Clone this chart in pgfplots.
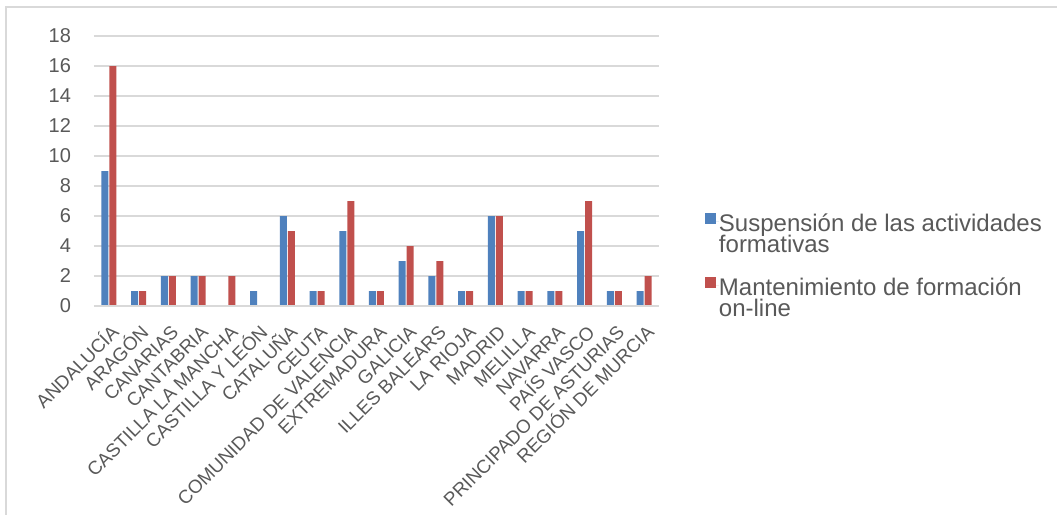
\documentclass[border=0pt]{standalone}
\usepackage{fontspec}
\setmainfont{Liberation Sans}
\usepackage{pgfplots}
\pgfplotsset{compat=1.18}
\definecolor{cblue}{HTML}{4F81BD}
\definecolor{cred}{HTML}{C0504D}
\definecolor{cgrid}{HTML}{D9D9D9}
\definecolor{ctext}{HTML}{595959}
\newcommand{\lstrut}{\rule[-2.5pt]{0pt}{11.5pt}}
\begin{document}
\begin{tikzpicture}
\useasboundingbox (-47pt,-104.5pt) rectangle (481.5pt,153pt);
\draw[cgrid, line width=0.7pt] (-44pt,-104.5pt) -- (-44pt,149.5pt) -- (481.5pt,149.5pt);
\begin{axis}[
  at={(0pt,0pt)}, anchor=south west,
  scale only axis, width=282.5pt, height=135pt,
  ybar, bar width=3.5pt,
  xmin=-0.5, xmax=18.5, ymin=0, ymax=18,
  xtick={0,...,18},
  xticklabels={ANDALUCÍA,ARAGÓN,CANARIAS,CANTABRIA,CASTILLA LA MANCHA,CASTILLA Y LEÓN,CATALUÑA,CEUTA,COMUNIDAD DE VALENCIA,EXTREMADURA,GALICIA,ILLES BALEARS,LA RIOJA,MADRID,MELILLA,NAVARRA,PAÍS VASCO,PRINCIPADO DE ASTURIAS,REGIÓN DE MURCIA},
  ytick={0,2,...,18},
  axis line style={draw=none},
  major tick length=0pt,
  ymajorgrids, grid style={cgrid, line width=0.75pt},
  /pgf/number format/assume math mode=true,
  tick label style={text=ctext},
  yticklabel style={font=\fontsize{10}{12}\selectfont, xshift=-8pt},
  xticklabel style={font=\fontsize{9.4}{11}\selectfont, inner sep=0pt, text height=0.72em, text depth=0.05em, xshift=0.5pt, yshift=-8.5pt, rotate=45, anchor=north east},
  legend style={at={(1.0814,0.345)}, anchor=north west, draw=none, inner sep=0pt,
    font=\fontsize{12}{11.5}\selectfont, text=ctext,
    nodes={inner sep=0pt},
    row sep=0pt},
  legend cell align=left,
  legend image code/.code={\fill[#1] (0pt,-0.25pt) rectangle (5.3pt,5.25pt); \path (0pt,1pt) -- (6.8pt,1pt);},
]
\addlegendimage{fill=cblue, draw=none}
\addlegendentry{\lstrut Suspensión de las actividades}
\addlegendimage{empty legend}
\addlegendentry{\lstrut formativas}
\addlegendimage{empty legend}
\addlegendentry{\rule{0pt}{9.5pt}}
\addlegendimage{fill=cred, draw=none}
\addlegendentry{\lstrut Mantenimiento de formación}
\addlegendimage{empty legend}
\addlegendentry{\lstrut on-line}
\addplot[fill=cblue, draw=none, forget plot, bar shift=-2pt] coordinates {(0,9) (1,1) (2,2) (3,2) (4,0) (5,1) (6,6) (7,1) (8,5) (9,1) (10,3) (11,2) (12,1) (13,6) (14,1) (15,1) (16,5) (17,1) (18,1)};
\addplot[fill=cred, draw=none, forget plot, bar shift=2pt] coordinates {(0,16) (1,1) (2,2) (3,2) (4,2) (5,0) (6,5) (7,1) (8,7) (9,1) (10,4) (11,3) (12,1) (13,6) (14,1) (15,1) (16,7) (17,1) (18,2)};
\draw[cgrid, line width=0.75pt] (rel axis cs:0,0) -- (rel axis cs:1,0);
\end{axis}
\end{tikzpicture}
\end{document}
